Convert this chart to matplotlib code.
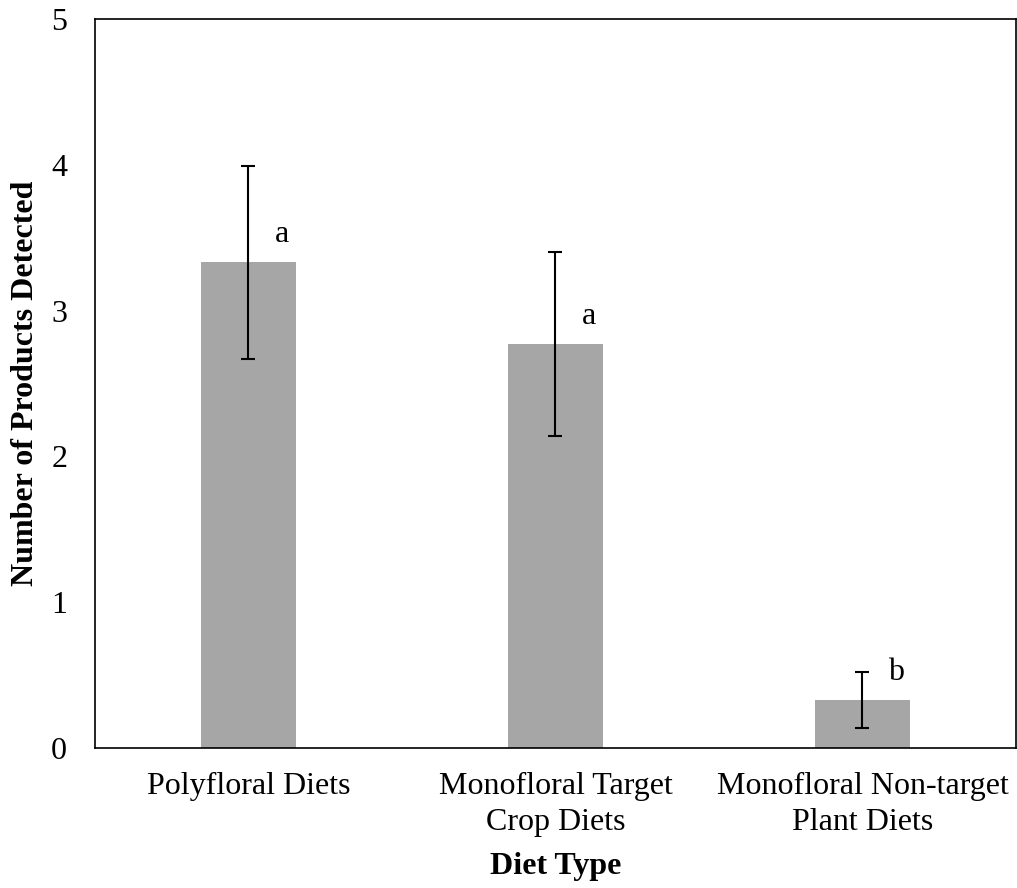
import numpy as np
import matplotlib.pyplot as plt

plt.rcParams['font.family'] = ['Liberation Serif', 'DejaVu Serif']

diets = ['Polyfloral Diets', 'Monofloral Target\nCrop Diets', 'Monofloral Non-target\nPlant Diets']
means = [3.33, 2.77, 0.33]
errs = [0.66, 0.63, 0.19]
letters = ['a', 'a', 'b']

BAR_COL = '#A6A6A6'

fig = plt.figure(figsize=(10.17, 8.88), dpi=100)
ax = fig.add_axes([0.0934, 0.1577, 0.9056, 0.8209])

x = np.arange(len(diets))
ax.bar(x, means, width=0.312, color=BAR_COL, zorder=2)
ax.errorbar(x, means, yerr=errs, fmt='none', ecolor='black',
            elinewidth=1.5, capsize=4.7, capthick=1.5, zorder=3)

for xi, m, lt in zip(x, means, letters):
    ax.text(xi + 0.109, m + 0.19, lt, fontsize=23, ha='center', va='center')

ax.set_xlim(-0.5, 2.5)
ax.set_ylim(0, 5)
ax.set_yticks(range(6))
ax.set_xticks(x)
ax.set_xticklabels(diets, fontsize=23, linespacing=1.32)
ax.tick_params(axis='y', length=0, pad=20, labelsize=23)
ax.tick_params(axis='x', length=0, pad=17)
for sp in ax.spines.values():
    sp.set_linewidth(1.2)

ax.set_ylabel('Number of Products Detected', fontsize=23, fontweight='bold', labelpad=8)
ax.set_xlabel('Diet Type', fontsize=23, fontweight='bold', labelpad=11)

fig.savefig('out.png', dpi=100, facecolor='white')
